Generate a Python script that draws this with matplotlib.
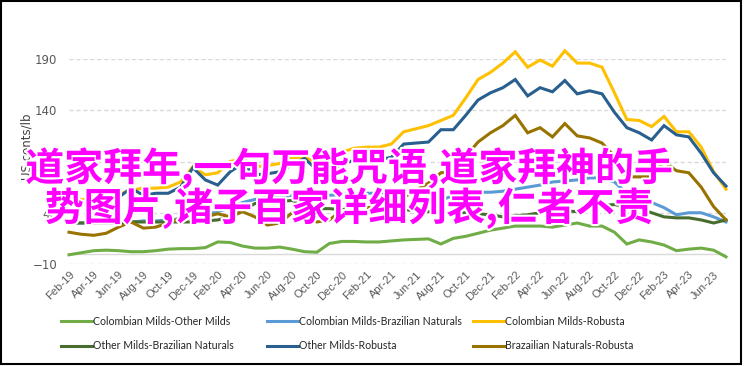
import matplotlib
matplotlib.use('Agg')
import matplotlib.pyplot as plt
import matplotlib.patheffects as pe
from matplotlib.patches import Rectangle
import pandas as pd

months = list(pd.date_range('2019-02-01', periods=54, freq='MS').strftime('%b-%y'))

series_names = ['Colombian Milds-Other Milds', 'Colombian Milds-Brazilian Naturals',
                'Colombian Milds-Robusta', 'Other Milds-Brazilian Naturals',
                'Other Milds-Robusta', 'Brazailian Naturals-Robusta']
colors = ['#70AD47', '#5B9BD5', '#FFC000', '#476D2E', '#285F8F', '#997300']

col_other = [-1, 1, 3, 3.5, 3, 2, 2, 3, 4.5, 5, 5, 6, 11.5, 11, 7.5, 5.5, 5.5, 6.5, 4.5, 2,
             1.5, 10, 12, 12, 11.5, 11.5, 12.5, 13.5, 14, 14.5, 9.5, 15, 17, 20, 23, 25, 27, 27,
             27, 26, 28, 30, 27, 27, 21, 9.5, 13.5, 11.5, 8.5, 3, 4.5, 5.5, 3.5, -3]
col_braz = [30, 30, 30, 31, 31, 31, 32, 32, 33, 34, 36, 38, 41, 45, 50, 53, 55, 56, 57, 57,
            57, 57, 58, 58, 59, 59, 60, 60, 61, 61, 52, 57, 59, 60, 60, 61, 63, 65, 67, 70, 71,
            72, 74, 74, 70, 59, 52, 50, 45, 38, 40, 40, 36, 31]
col_rob = [55, 53, 52, 55, 58, 62, 64, 64, 65, 70, 85, 77, 79, 90, 93, 85, 86, 88, 94, 94,
           89, 93, 99, 103, 104, 104, 107, 119, 122, 125, 130, 135, 152, 170, 177, 186, 197,
           182, 189, 183, 198, 186, 186, 182, 157, 131, 130, 124, 134, 119, 119, 104, 80, 63]
oth_braz = [30, 30, 30, 30, 30, 31, 31, 31, 31, 31, 31, 32, 33, 36, 42, 49, 50, 51, 52, 48,
            44, 44, 43, 45, 44, 43, 43, 43, 42, 41, 40, 40, 40, 39, 38, 36, 37, 38, 40, 42, 42,
            41, 45, 47, 48, 46, 44, 40, 36, 35, 35, 33, 30, 33]
oth_rob = [52, 50, 48, 50, 55, 64, 57, 59, 59, 65, 84, 72, 67, 80, 88, 77, 78, 80, 87, 93,
           82, 79, 88, 91, 92, 92, 94, 107, 108, 109, 121, 121, 135, 150, 157, 162, 170, 154,
           162, 158, 169, 156, 159, 156, 138, 123, 118, 111, 125, 116, 114, 98, 79, 66]
braz_rob = [21, 19, 18, 20, 26, 31, 25, 26, 30, 35, 42, 36, 39, 36, 41, 36, 28, 30, 40, 36,
            31, 33, 42, 44, 45, 46, 50, 55, 62, 69, 79, 80, 95, 109, 118, 125, 135, 118, 123,
            114, 127, 115, 113, 108, 95, 75, 75, 75, 90, 81, 79, 65, 46, 33]
all_series = [col_other, col_braz, col_rob, oth_braz, oth_rob, braz_rob]

y_ticks = [-10, 40, 90, 140, 190]

fig = plt.figure(figsize=(7.44, 3.66), dpi=100)
ax = fig.add_axes([69 / 744, 102 / 366, 657 / 744, 205 / 366])

x = list(range(len(months)))
handles = []
for name, vals, c in zip(series_names, all_series, colors):
    h, = ax.plot(x, vals, color=c, lw=2.2, label=name, clip_on=False, zorder=3,
                 solid_joinstyle='miter')
    handles.append(h)

ax.set_xlim(0, len(months) - 1)
ax.set_ylim(-10, 190)
ax.set_yticks(y_ticks)
for t in y_ticks:
    ax.axhline(t, color='#D9D9D9', lw=1, ls=(0, (3, 2)), zorder=1)
ax.axhline(0, color='#D9D9D9', lw=1, zorder=1)
for s in ax.spines.values():
    s.set_visible(False)
ax.tick_params(axis='y', length=0, pad=8.5, labelsize=8.5, labelcolor='#595959')
ax.set_xticks(x[::2])
ax.set_xticklabels(months[::2], rotation=45, ha='right', rotation_mode='anchor',
                   fontsize=8, color='#595959', family='Liberation Sans')
ax.tick_params(axis='x', length=0, pad=4)

fig.text(27 / 744, 1 - 147 / 366, 'US cents/lb', rotation=90, ha='center', va='center',
         fontsize=8.5, color='#404040')

# legend: three columns, two rows
cols = [[0, 3], [1, 4], [2, 5]]
col_x = [61, 267, 473]
for xs, idx in zip(col_x, cols):
    fig.legend([handles[i] for i in idx], [series_names[i] for i in idx],
               loc='upper left', bbox_to_anchor=(xs / 744, 1 - 316 / 366), frameon=False,
               handlelength=2.9, handletextpad=0.15, labelspacing=1.25,
               prop={'family': 'Lato', 'size': 7.6}, labelcolor='#262626',
               borderpad=0, borderaxespad=0)

fig.add_artist(Rectangle((0.002, 0.006), 0.994, 0.99, transform=fig.transFigure,
                         fill=False, edgecolor='black', lw=1.5))

overlay = ['道家拜年,一句万能咒语,道家拜神的手', '势图片,诸子百家详细列表,仁者不责']
for k, line in enumerate(overlay):
    fig.text(349 / 744, 1 - (168 + 40 * k) / 366, line, ha='center', va='center',
             fontsize=28, color='#FF00FF', family=['Noto Sans CJK SC', 'DejaVu Sans'],
             weight='bold',
             path_effects=[pe.withStroke(linewidth=3, foreground='white')], zorder=10)

fig.savefig('out.png', dpi=100)
